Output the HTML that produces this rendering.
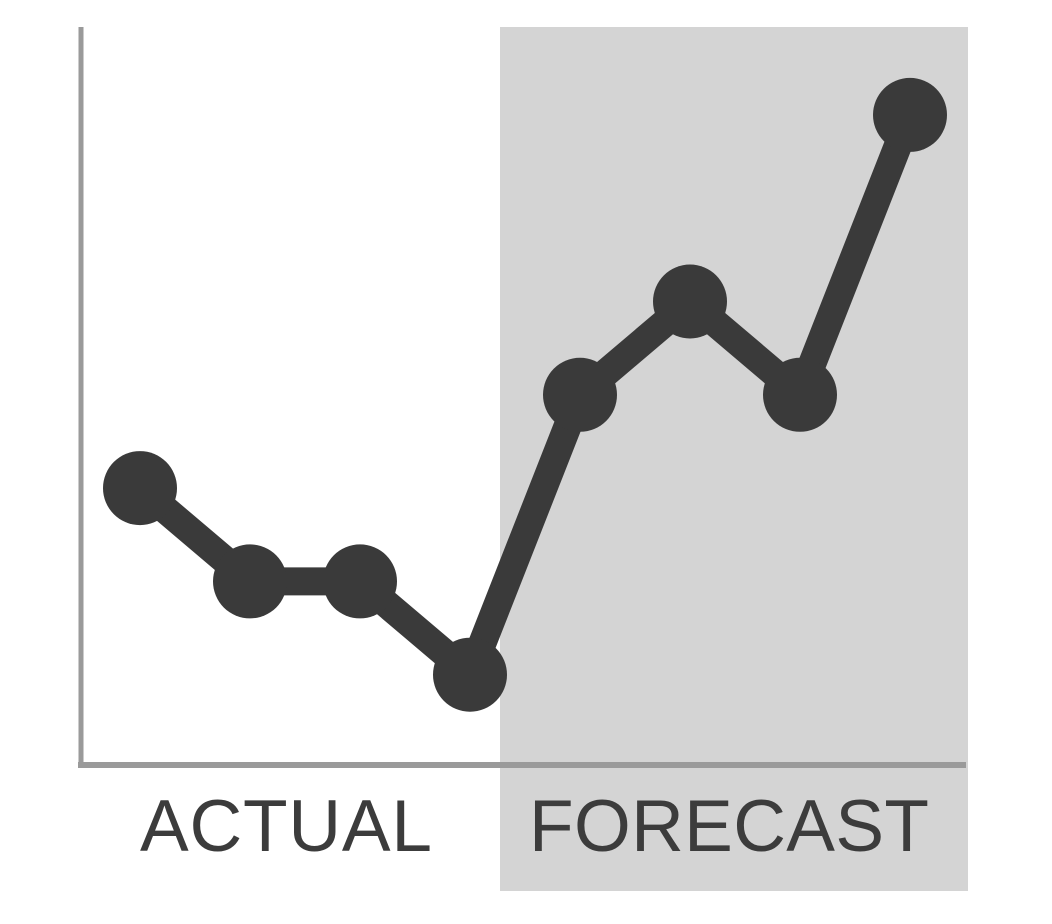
<!DOCTYPE html>
<html><head><meta charset="utf-8"><style>
html,body{margin:0;padding:0;background:#fff;}
svg{display:block;}
</style></head><body>
<svg width="1052" height="924" viewBox="0 0 1052 924">
<rect x="500" y="27" width="468" height="864" fill="#d4d4d4"/>
<line x1="81" y1="27" x2="81" y2="768" stroke="#9a9a9a" stroke-width="5"/>
<line x1="78" y1="765" x2="966" y2="765" stroke="#9a9a9a" stroke-width="6"/>
<g id="series"></g>
<text x="286" y="851" text-anchor="middle" font-family="Liberation Sans, sans-serif" font-size="73" fill="#3c3c3c" textLength="292">ACTUAL</text>
<text x="729" y="851" text-anchor="middle" font-family="Liberation Sans, sans-serif" font-size="73" fill="#3c3c3c" textLength="400">FORECAST</text>
</svg>
<script>
const categories = [1,2,3,4,5,6,7,8];
const values = [3,2,2,1,4,5,4,7];
function xScale(i){ return 140 + i*110; }
function yScale(v){ return 768 - 93.3*v; }
const ns='http://www.w3.org/2000/svg';
const g=document.getElementById('series');
const pl=document.createElementNS(ns,'polyline');
pl.setAttribute('points',values.map((v,i)=>xScale(i)+','+yScale(v)).join(' '));
pl.setAttribute('fill','none');pl.setAttribute('stroke','#3a3a3a');pl.setAttribute('stroke-width','28');pl.setAttribute('stroke-linejoin','round');


g.appendChild(pl);
values.forEach((v,i)=>{
 const c=document.createElementNS(ns,'circle');
 c.setAttribute('cx',xScale(i));c.setAttribute('cy',yScale(v));c.setAttribute('r','37');c.setAttribute('fill','#3a3a3a');
 
 
 g.appendChild(c);
});
</script>
</body></html>
